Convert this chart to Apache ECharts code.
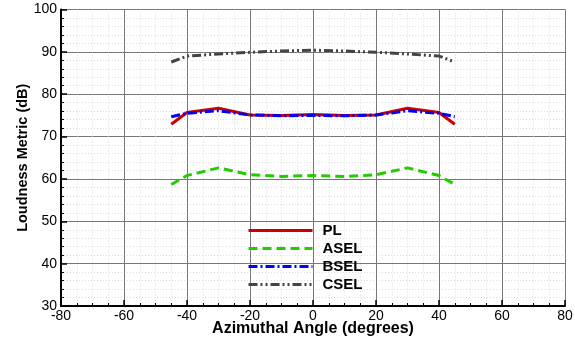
<!DOCTYPE html>
<html><head><meta charset="utf-8">
<script src="https://cdn.jsdelivr.net/npm/echarts@6/dist/echarts.min.js"></script>
<style>html,body{margin:0;padding:0;background:#fff}#c{width:575px;height:343px}</style>
</head><body><div id="c"></div>
<script>
const angles = [-45, -40, -30, -20, -10, 0, 10, 20, 30, 40, 45];
const PL   = [72.9, 75.7, 76.7, 75.1, 75.0, 75.2, 75.0, 75.1, 76.7, 75.7, 72.9];
const ASEL = [58.7, 60.8, 62.6, 61.0, 60.6, 60.8, 60.6, 61.0, 62.6, 60.8, 58.7];
const BSEL = [74.7, 75.5, 76.1, 75.1, 74.9, 75.0, 74.9, 75.1, 76.1, 75.5, 74.7];
const CSEL = [87.6, 89.0, 89.5, 89.9, 90.2, 90.4, 90.2, 89.9, 89.5, 89.0, 87.6];
const seriesNames = ['PL', 'ASEL', 'BSEL', 'CSEL'];
const xTitle = 'Azimuthal Angle (degrees)';
const yTitle = 'Loudness Metric (dB)';

const FONT = '"Liberation Sans", Arial, sans-serif';
function pairs(v){ return angles.map((a,i)=>[a, v[i]]); }
const styles = {
  PL:   {color:'#cc0000', type:'solid'},
  ASEL: {color:'#22cc00', type:[9,5]},
  BSEL: {color:'#0000ff', type:[9,3,2,3]},
  CSEL: {color:'#444444', type:[9,3,2,3,2,3]}
};
const data = {PL, ASEL, BSEL, CSEL};
const chart = echarts.init(document.getElementById('c'), null, {renderer:'canvas'});
const axisCommon = {
  axisLine:{show:true, onZero:false, lineStyle:{color:'#000', width:2}},
  axisTick:{show:true, inside:true, length:6, lineStyle:{color:'#000', width:1.5}},
  minorTick:{show:true, length:3, lineStyle:{color:'#000', width:1}},
  splitLine:{show:true, lineStyle:{color:'#777', width:1}},
  minorSplitLine:{show:true, lineStyle:{color:'#ddd', width:1, type:[1,2]}},
  axisLabel:{color:'#000', fontSize:14, fontFamily:FONT},
  nameTextStyle:{color:'#000', fontSize:16, fontWeight:'bold', fontFamily:FONT},
  nameMoveOverlap:false
};
chart.setOption({
  animation:false,
  grid:{left:61, right:10, top:9.5, bottom:37, containLabel:false, outerBoundsMode:'none'},
  xAxis: Object.assign({}, axisCommon, {
    type:'value', min:-80, max:80, interval:20,
    minorTick:Object.assign({}, axisCommon.minorTick, {splitNumber:4}),
    axisLabel:Object.assign({}, axisCommon.axisLabel, {margin:3}),
    name:xTitle, nameLocation:'middle', nameGap:15
  }),
  yAxis: Object.assign({}, axisCommon, {
    type:'value', min:30, max:100, interval:10,
    minorTick:Object.assign({}, axisCommon.minorTick, {splitNumber:5}),
    axisLabel:Object.assign({}, axisCommon.axisLabel, {margin:4}),
    name:yTitle, nameLocation:'middle', nameGap:31,
    nameTextStyle:{color:'#000', fontSize:14.5, fontWeight:'bold', fontFamily:FONT}
  }),
  legend:{
    orient:'vertical', left:247, top:223, padding:0, itemWidth:64, itemHeight:14, itemGap:3,
    itemStyle:{opacity:0},
    lineStyle:{width:3},
    textStyle:{color:'#000', fontSize:15, fontWeight:'bold', fontFamily:FONT, padding:[0,0,0,5]},
    data:seriesNames
  },
  series: seriesNames.map(n=>({
    name:n, type:'line', data:pairs(data[n]), symbol:'none', showSymbol:false,
    lineStyle:{color:styles[n].color, type:styles[n].type, width:3},
    itemStyle:{color:styles[n].color},
    z: n==='PL'?3:4
  }))
});
</script></body></html>
